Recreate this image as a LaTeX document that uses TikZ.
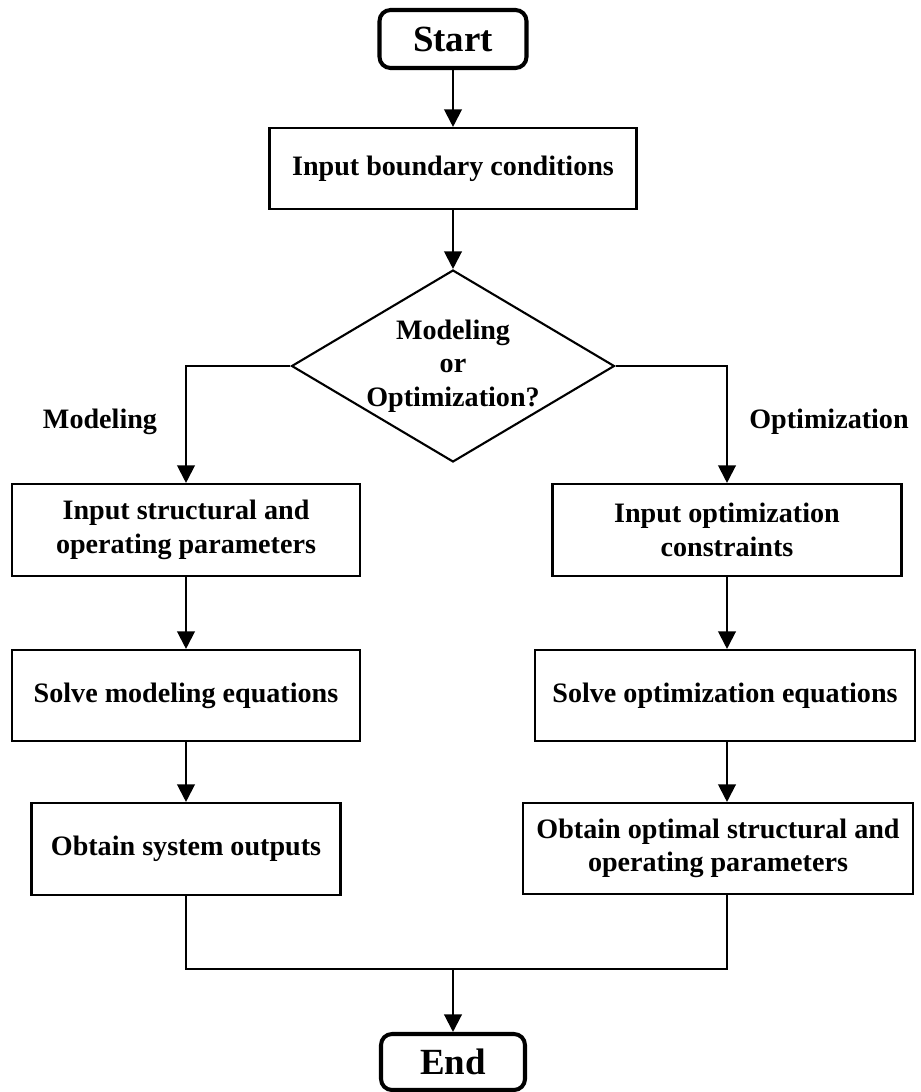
\documentclass[tikz,border=0pt]{standalone}
\usepackage{fontspec}
\setmainfont{Liberation Serif}
\usetikzlibrary{arrows.meta, shapes.geometric}
\tikzset{%
    proc/.style={rectangle, draw, line width=1.2pt, align=center, inner sep=2pt, font=\fontsize{16}{19}\selectfont\bfseries},
    term/.style={rectangle, rounded corners=0.22cm, draw, line width=2.3pt, inner sep=2pt, font=\fontsize{21}{25}\selectfont\bfseries},
    dec/.style={diamond, draw, line width=1.2pt, inner sep=0pt},
    lbl/.style={align=center, inner sep=0pt, font=\fontsize{16}{19}\selectfont\bfseries},
    lin/.style={line width=1.2pt},
    lina/.style={line width=1.2pt, -{Triangle[length=10pt, width=10pt]}},
}

\begin{document}
\begin{tikzpicture}[x=0.02cm, y=-0.02cm]
    \useasboundingbox (0,0) rectangle (920,1092);
    % main line
    \node [term, minimum width=2.94cm, minimum height=1.16cm] (start) at (453,39) {Start};
    \node [proc, minimum width=7.34cm, minimum height=1.62cm] (input) at (453,168.5) {Input boundary conditions};
    \node [dec, minimum width=6.46cm, minimum height=3.84cm] (dec) at (453,366) {};
    \node [lbl] (dectxt) at (dec) {Modeling\\or\\Optimization?};
    % modeling branch
    \node [proc, minimum width=6.96cm, minimum height=1.84cm] (lbox1) at (186,530) {Input structural and\\operating parameters};
    \node [proc, minimum width=6.96cm, minimum height=1.82cm] (lbox2) at (186,695.5) {Solve modeling equations};
    \node [proc, minimum width=6.18cm, minimum height=1.84cm] (lbox3) at (186,849) {Obtain system outputs};
    % optimization branch
    \node [proc, minimum width=6.98cm, minimum height=1.84cm] (rbox1) at (727,530) {Input optimization\\constraints};
    \node [proc, minimum width=7.6cm, minimum height=1.82cm] (rbox2) at (725,695.5) {Solve optimization equations};
    \node [proc, minimum width=7.8cm, minimum height=1.82cm] (rbox3) at (718,848.5) {Obtain optimal structural and\\operating parameters};
    \node [term, minimum width=2.88cm, minimum height=1.12cm] (end) at (453,1062) {End};
    \node [lbl] (modlbl) at (100,422) {Modeling};
    \node [lbl] (optlbl) at (829,422) {Optimization};
    \coordinate (ml) at (186,969);
    \coordinate (mm) at (453,969);
    \coordinate (mr) at (727,969);
    % connectors
    \draw [lina] (start) -- (input);
    \draw [lina] (input) -- (dec);
    \draw [lina] (dec.west) -| (lbox1.north);
    \draw [lina] (dec.east) -| (rbox1.north);
    \draw [lina] (lbox1) -- (lbox2);
    \draw [lina] (lbox2) -- (lbox3);
    \draw [lina] (rbox1.south) -- (rbox1.south |- rbox2.north);
    \draw [lina] (rbox1.south |- rbox2.south) -- (rbox1.south |- rbox3.north);
    \draw [lin] (lbox3) -- (ml) -- (mr) -- (mr |- rbox3.south);
    \draw [lina] (mm) -- (end);
\end{tikzpicture}
\end{document}
